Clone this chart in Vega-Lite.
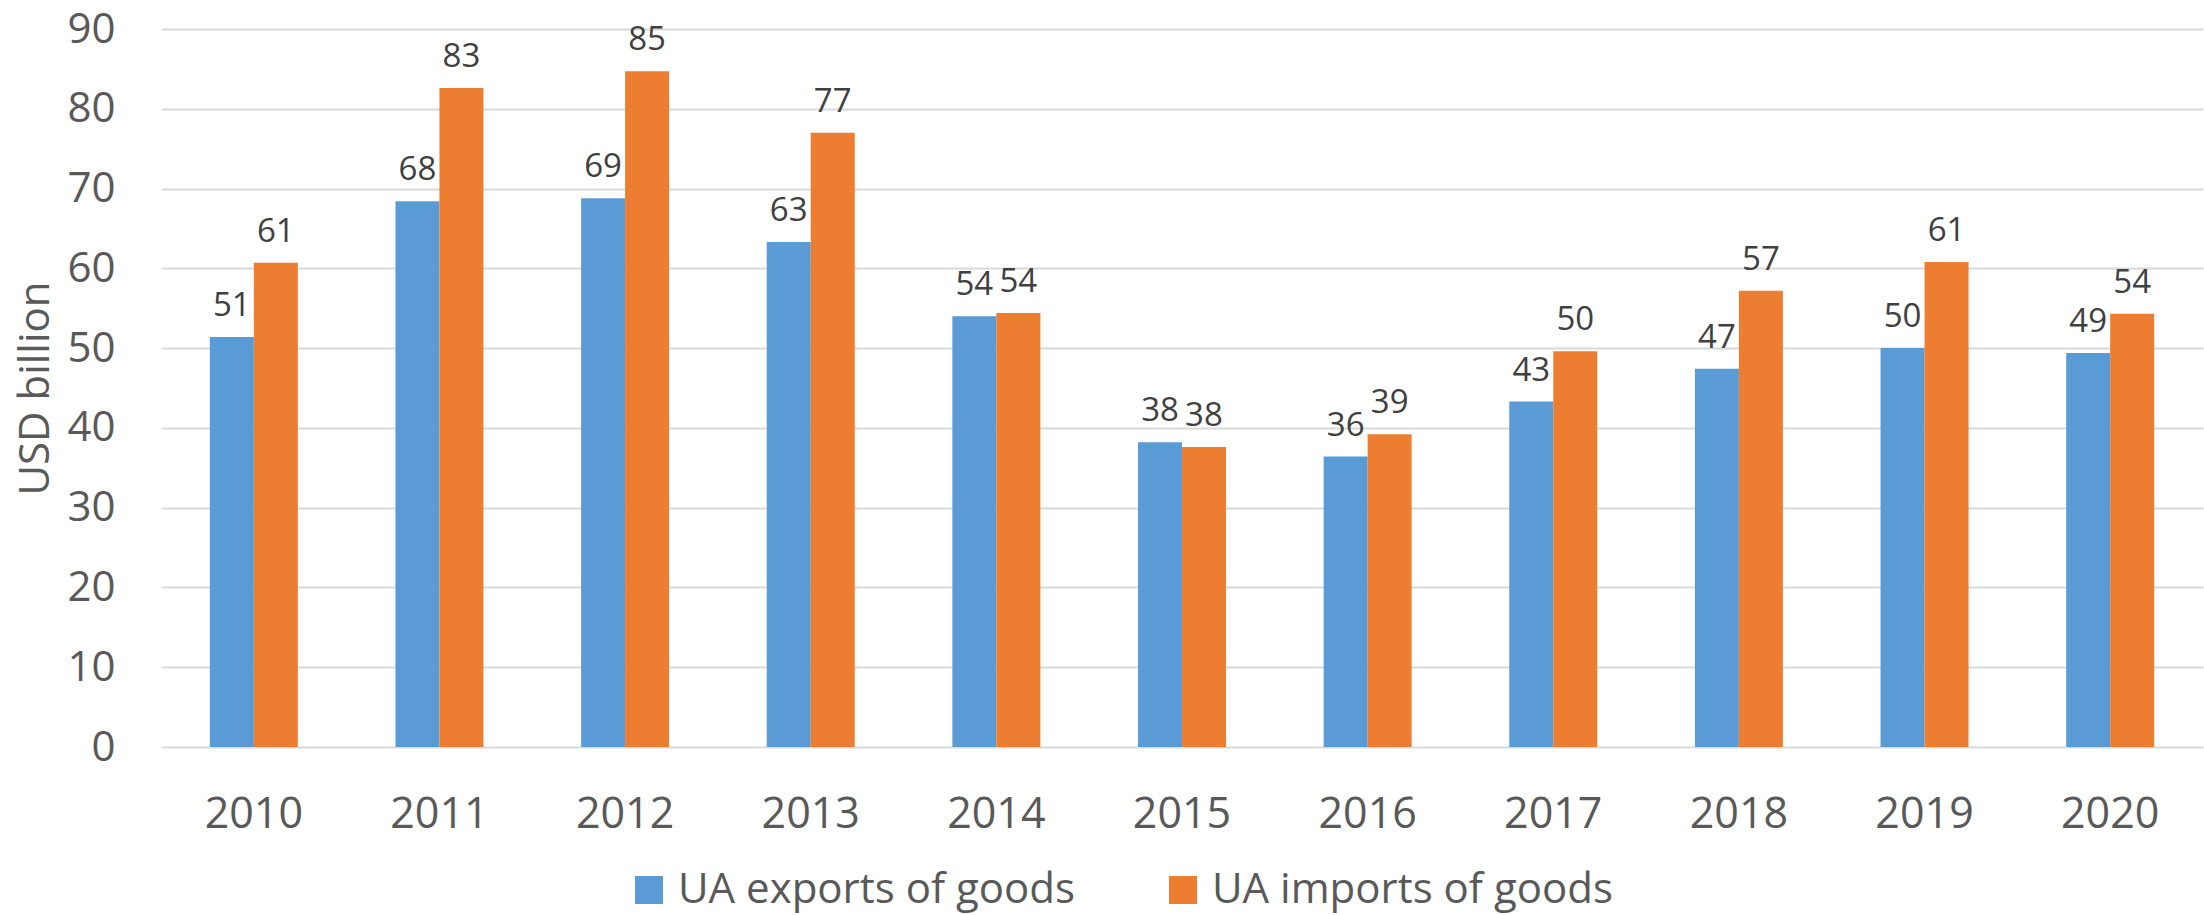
{
  "$schema": "https://vega.github.io/schema/vega-lite/v6.json",
  "width": 2042,
  "height": 718,
  "autosize": {"type": "none"},
  "padding": {"left": 161, "top": 29, "right": 1, "bottom": 168},
  "background": "white",
  "config": {"view": {"stroke": null}, "font": "Open Sans"},
  "data": {
    "values": [
      {"year": "2010", "series": "UA exports of goods", "value": 51.4},
      {"year": "2010", "series": "UA imports of goods", "value": 60.7},
      {"year": "2011", "series": "UA exports of goods", "value": 68.4},
      {"year": "2011", "series": "UA imports of goods", "value": 82.6},
      {"year": "2012", "series": "UA exports of goods", "value": 68.8},
      {"year": "2012", "series": "UA imports of goods", "value": 84.7},
      {"year": "2013", "series": "UA exports of goods", "value": 63.3},
      {"year": "2013", "series": "UA imports of goods", "value": 77.0},
      {"year": "2014", "series": "UA exports of goods", "value": 54.0},
      {"year": "2014", "series": "UA imports of goods", "value": 54.4},
      {"year": "2015", "series": "UA exports of goods", "value": 38.2},
      {"year": "2015", "series": "UA imports of goods", "value": 37.6},
      {"year": "2016", "series": "UA exports of goods", "value": 36.4},
      {"year": "2016", "series": "UA imports of goods", "value": 39.2},
      {"year": "2017", "series": "UA exports of goods", "value": 43.3},
      {"year": "2017", "series": "UA imports of goods", "value": 49.6},
      {"year": "2018", "series": "UA exports of goods", "value": 47.4},
      {"year": "2018", "series": "UA imports of goods", "value": 57.2},
      {"year": "2019", "series": "UA exports of goods", "value": 50.0},
      {"year": "2019", "series": "UA imports of goods", "value": 60.8},
      {"year": "2020", "series": "UA exports of goods", "value": 49.4},
      {"year": "2020", "series": "UA imports of goods", "value": 54.3}
    ]
  },
  "encoding": {
    "x": {
      "field": "year",
      "type": "ordinal",
      "scale": {"paddingInner": 0.526, "paddingOuter": 0.263},
      "axis": {
        "title": null,
        "domain": false,
        "ticks": false,
        "tickSize": 0,
        "grid": false,
        "labelAngle": 0,
        "labelPadding": 80,
        "labelBaseline": "alphabetic",
        "labelFontSize": 43,
        "labelColor": "#595959"
      }
    },
    "xOffset": {
      "field": "series",
      "type": "nominal",
      "sort": ["UA exports of goods", "UA imports of goods"],
      "scale": {"paddingInner": 0, "paddingOuter": 0}
    },
    "y": {
      "field": "value",
      "type": "quantitative",
      "scale": {"domain": [0, 90], "nice": false},
      "axis": {
        "title": "USD billion",
        "values": [0, 10, 20, 30, 40, 50, 60, 70, 80, 90],
        "domain": false,
        "ticks": false,
        "tickSize": 0,
        "labelPadding": 46,
        "labelFontSize": 42,
        "labelColor": "#595959",
        "gridColor": "#d9d9d9",
        "gridWidth": 2,
        "titleFontSize": 42,
        "titleFontWeight": "normal",
        "titleColor": "#595959",
        "titleX": -113,
        "titleY": 359,
        "titleAngle": 270,
        "titleAlign": "center",
        "titleBaseline": "alphabetic"
      }
    }
  },
  "layer": [
    {
      "mark": {"type": "bar"},
      "encoding": {
        "color": {
          "field": "series",
          "type": "nominal",
          "scale": {
            "domain": ["UA exports of goods", "UA imports of goods"],
            "range": ["#5b9bd5", "#ed7d31"]
          },
          "legend": {
            "title": null,
            "orient": "none",
            "legendX": 467,
            "legendY": 840,
            "direction": "horizontal",
            "symbolType": "square",
            "symbolSize": 784,
            "symbolStrokeWidth": 0,
            "labelFontSize": 42,
            "labelColor": "#595959",
            "labelOffset": 8,
            "columnPadding": 86,
            "padding": 0,
            "labelLimit": 0
          }
        }
      }
    },
    {
      "mark": {
        "type": "text",
        "baseline": "alphabetic",
        "dy": -21,
        "fontSize": 33,
        "color": "#404040"
      },
      "encoding": {
        "text": {"field": "value", "type": "quantitative", "format": ".0f"}
      }
    }
  ]
}
